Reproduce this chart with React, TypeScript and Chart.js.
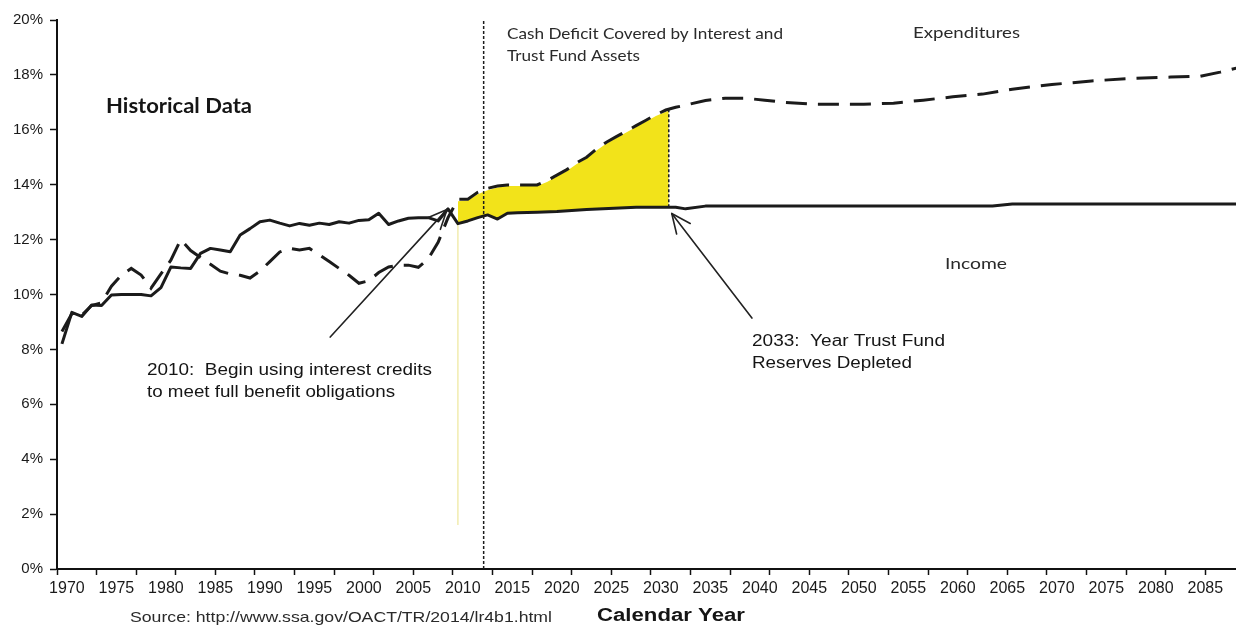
import { useEffect, useRef } from 'react';
import { Chart, registerables } from 'chart.js';

Chart.register(...registerables);

// ---------- data ----------
const incomeYears = [1970,1971,1972,1973,1974,1975,1976,1977,1978,1979,1980,1981,1982,1983,1984,1985,1986,1987,1988,1989,1990,1991,1992,1993,1994,1995,1996,1997,1998,1999,2000,2001,2002,2003,2004,2005,2006,2007,2008,2009,2010,2011,2012,2013,2014,2015,2016,2018,2020,2023,2028,2032,2033,2035,2064,2066,2089];
const incomeValues = [8.2,9.35,9.2,9.62,9.6,9.98,10.0,10.0,10.0,9.95,10.25,11.0,10.97,10.95,11.5,11.68,11.62,11.56,12.17,12.4,12.65,12.71,12.6,12.5,12.59,12.52,12.6,12.55,12.65,12.6,12.7,12.72,12.96,12.55,12.68,12.78,12.8,12.8,12.68,13.12,12.58,12.68,12.8,12.9,12.75,12.96,12.98,13.0,13.02,13.1,13.18,13.18,13.12,13.22,13.22,13.3,13.3];

const expYears = [1970,1971,1972,1973,1974,1975,1976,1977,1978,1979,1980,1981,1982,1983,1984,1985,1986,1987,1988,1989,1990,1991,1992,1993,1994,1995,1996,1997,1998,1999,2000,2001,2002,2003,2004,2005,2006,2007,2008,2009,2010,2011,2012,2013,2014,2015,2018,2019,2020,2021,2022,2023,2024,2025,2026,2027,2028,2029,2030,2031,2032,2033,2035,2037,2039,2041,2043,2046,2051,2054,2057,2060,2063,2066,2070,2074,2078,2082,2085,2087,2089];
const expValues = [8.65,9.3,9.25,9.6,9.7,10.3,10.7,10.95,10.71,10.23,10.75,11.25,12.0,11.6,11.35,11.1,10.85,10.75,10.7,10.6,10.85,11.2,11.55,11.68,11.62,11.68,11.45,11.2,10.95,10.7,10.41,10.5,10.8,11.0,11.07,11.07,10.99,11.3,11.9,12.8,13.47,13.47,13.72,13.87,13.95,13.99,13.99,14.15,14.35,14.55,14.8,15.0,15.3,15.55,15.75,15.95,16.15,16.35,16.55,16.72,16.82,16.9,17.07,17.15,17.15,17.08,17.0,16.93,16.93,16.97,17.08,17.2,17.3,17.48,17.65,17.78,17.87,17.92,17.95,18.1,18.28];

const deficitYears = [2010,2011,2012,2013,2014,2015,2018,2019,2020,2021,2022,2023,2024,2025,2026,2027,2028,2029,2030,2031.3];
const deficitTop = [13.4,13.42,13.65,13.8,13.9,13.95,13.95,14.1,14.3,14.5,14.75,14.95,15.25,15.5,15.7,15.9,16.1,16.3,16.5,16.7];
const deficitBottom = [12.58,12.68,12.8,12.9,12.75,12.96,13.0,13.0,13.02,13.05,13.07,13.1,13.12,13.14,13.15,13.17,13.18,13.18,13.18,13.18];

const projectionStartYear = 2012.6;
const projectionRange = [0, 20];
const depletionYear = 2031.3;
const depletionRange = [13.18, 16.72];
const interestStartYear = 2010;
const interestGuideRange = [1.6, 12.58];

const xLabelYears = [1970,1975,1980,1985,1990,1995,2000,2005,2010,2015,2020,2025,2030,2035,2040,2045,2050,2055,2060,2065,2070,2075,2080,2085];
const yTicks = [0,2,4,6,8,10,12,14,16,18,20];

const arrows = [
  { from: [1997.1, 8.45], to: [2008.9, 13.1] },
  { from: [2039.7, 9.14], to: [2031.6, 12.95] },
];

// ---------- layout / style ----------
const X_MIN = 1969.5;
const X_MAX = 2088.6;
const INK = '#1b1b1b';

type Txt = { text: string; x: number; y: number; font: string; w: number; color?: string };
const texts: Txt[] = [
  { text: 'Historical Data', x: 106, y: 113, font: 'bold 21px Lato', w: 146 },
  { text: 'Cash Deficit Covered by Interest and', x: 507, y: 39, font: '15px Lato', w: 276, color: '#2a2a2a' },
  { text: 'Trust Fund Assets', x: 507, y: 61, font: '15px Lato', w: 133, color: '#2a2a2a' },
  { text: 'Expenditures', x: 913, y: 38, font: '16px Lato', w: 107, color: '#2a2a2a' },
  { text: 'Income', x: 945, y: 269, font: '16px Lato', w: 62, color: '#2a2a2a' },
  { text: '2010:  Begin using interest credits', x: 147, y: 375, font: '16px "Liberation Sans"', w: 285 },
  { text: 'to meet full benefit obligations', x: 147, y: 397, font: '16px "Liberation Sans"', w: 248 },
  { text: '2033:  Year Trust Fund', x: 752, y: 346, font: '16px "Liberation Sans"', w: 193 },
  { text: 'Reserves Depleted', x: 752, y: 368, font: '16px "Liberation Sans"', w: 160 },
  { text: 'Source: http://www.ssa.gov/OACT/TR/2014/lr4b1.html', x: 130, y: 622, font: '15px "Liberation Sans"', w: 422, color: '#2a2a2a' },
  { text: 'Calendar Year', x: 597, y: 621, font: 'bold 18px "Liberation Sans"', w: 148 },
];

const pts = (xs: number[], ys: number[]) => xs.map((x, i) => ({ x, y: ys[i] }));

const overlayPlugin = {
  id: 'overlay',
  afterDraw(chart: any) {
    const ctx: CanvasRenderingContext2D = chart.ctx;
    const xs = chart.scales.x;
    const ys = chart.scales.y;
    ctx.save();
    // arrows
    ctx.strokeStyle = '#222';
    ctx.lineWidth = 1.6;
    ctx.lineCap = 'round';
    for (const a of arrows) {
      const x0 = xs.getPixelForValue(a.from[0]);
      const y0 = ys.getPixelForValue(a.from[1]);
      const x1 = xs.getPixelForValue(a.to[0]);
      const y1 = ys.getPixelForValue(a.to[1]);
      ctx.beginPath();
      ctx.moveTo(x0, y0);
      ctx.lineTo(x1, y1);
      ctx.stroke();
      const ang = Math.atan2(y0 - y1, x0 - x1);
      const len = 21;
      for (const d of [-0.42, 0.42]) {
        ctx.beginPath();
        ctx.moveTo(x1, y1);
        ctx.lineTo(x1 + len * Math.cos(ang + d), y1 + len * Math.sin(ang + d));
        ctx.stroke();
      }
    }
    // texts
    ctx.textBaseline = 'alphabetic';
    ctx.textAlign = 'left';
    for (const t of texts) {
      ctx.font = t.font;
      ctx.fillStyle = t.color || '#151515';
      const m = ctx.measureText(t.text).width;
      ctx.save();
      ctx.translate(t.x, t.y);
      ctx.scale(t.w / m, 1);
      ctx.fillText(t.text, 0, 0);
      ctx.restore();
    }
    ctx.restore();
  },
};

export default function App() {
  const ref = useRef<HTMLCanvasElement | null>(null);
  useEffect(() => {
    if (!ref.current) return;
    const labelPos = new Set(xLabelYears.map((y) => y + 0.5));
    const markPos = new Set<number>();
    for (let v = X_MIN; v <= X_MAX; v += 4) markPos.add(v);
    const allTicks = Array.from(new Set([...labelPos, ...markPos])).sort((a, b) => a - b);

    const chart = new Chart(ref.current, {
      type: 'line',
      data: {
        datasets: [
          {
            label: 'Income',
            data: pts(incomeYears, incomeValues),
            borderColor: INK,
            borderWidth: 3,
            pointRadius: 0,
            fill: false,
            order: 1,
            borderJoinStyle: 'round',
          },
          {
            label: 'Expenditures',
            data: pts(expYears, expValues),
            borderColor: INK,
            borderWidth: 3,
            borderDash: [21, 11],
            pointRadius: 0,
            fill: false,
            order: 1,
          },
          {
            label: 'deficitTop',
            data: pts(deficitYears, deficitTop),
            borderWidth: 0,
            borderColor: 'rgba(0,0,0,0)',
            backgroundColor: '#f2e31a',
            pointRadius: 0,
            fill: '+1',
            order: 10,
          },
          {
            label: 'deficitBottom',
            data: pts(deficitYears, deficitBottom),
            borderWidth: 0,
            borderColor: 'rgba(0,0,0,0)',
            pointRadius: 0,
            fill: false,
            order: 11,
          },
          {
            label: 'projectionStart',
            data: [{ x: projectionStartYear, y: projectionRange[0] }, { x: projectionStartYear, y: projectionRange[1] }],
            borderColor: INK,
            borderWidth: 1.5,
            borderDash: [3, 2],
            pointRadius: 0,
            fill: false,
            order: 2,
          },
          {
            label: 'depletion',
            data: [{ x: depletionYear, y: depletionRange[0] }, { x: depletionYear, y: depletionRange[1] }],
            borderColor: INK,
            borderWidth: 1.5,
            borderDash: [3, 2],
            pointRadius: 0,
            fill: false,
            order: 2,
          },
          {
            label: 'interestGuide',
            data: [{ x: interestStartYear, y: interestGuideRange[0] }, { x: interestStartYear, y: interestGuideRange[1] }],
            borderColor: '#eee79a',
            borderWidth: 1.2,
            pointRadius: 0,
            fill: false,
            order: 12,
          },
        ],
      },
      options: {
        animation: false,
        responsive: false,
        devicePixelRatio: 1,
        layout: { padding: { top: 20, right: 0, left: 0, bottom: 0 } },
        plugins: { legend: { display: false }, tooltip: { enabled: false } },
        scales: {
          x: {
            type: 'linear',
            min: X_MIN,
            max: X_MAX,
            afterBuildTicks: (scale: any) => {
              scale.ticks = allTicks.map((value) => ({ value }));
            },
            afterFit: (scale: any) => {
              scale.height = 60;
            },
            ticks: {
              autoSkip: false,
              maxRotation: 0,
              minRotation: 0,
              padding: 4,
              color: '#1a1a1a',
              font: { family: '"Liberation Sans"', size: 16 },
              callback: (value: any) => (labelPos.has(Number(value)) ? String(Number(value) - 0.5) : ''),
            },
            grid: {
              drawOnChartArea: false,
              drawTicks: true,
              tickLength: 6,
              tickWidth: 1.5,
              tickColor: (ctx: any) => (ctx.tick && markPos.has(ctx.tick.value) ? '#111' : 'rgba(0,0,0,0)'),
            },
            border: { display: true, color: '#111', width: 2 },
          },
          y: {
            type: 'linear',
            min: 0,
            max: 20,
            afterBuildTicks: (scale: any) => {
              scale.ticks = yTicks.map((value) => ({ value }));
            },
            afterFit: (scale: any) => {
              scale.width = 57;
            },
            ticks: {
              padding: 7,
              color: '#1a1a1a',
              font: { family: '"Liberation Sans"', size: 15 },
              callback: (value: any) => `${value}%`,
            },
            grid: {
              drawOnChartArea: false,
              drawTicks: true,
              tickLength: 7,
              tickWidth: 1.5,
              tickColor: '#111',
            },
            border: { display: true, color: '#111', width: 2 },
          },
        },
      },
      plugins: [overlayPlugin],
    } as any);
    return () => chart.destroy();
  }, []);

  return (
    <div style={{ position: 'fixed', left: 0, top: 0, width: 1236, height: 629, background: '#fff' }}>
      <canvas ref={ref} width={1236} height={629} style={{ width: 1236, height: 629, display: 'block' }} />
    </div>
  );
}
